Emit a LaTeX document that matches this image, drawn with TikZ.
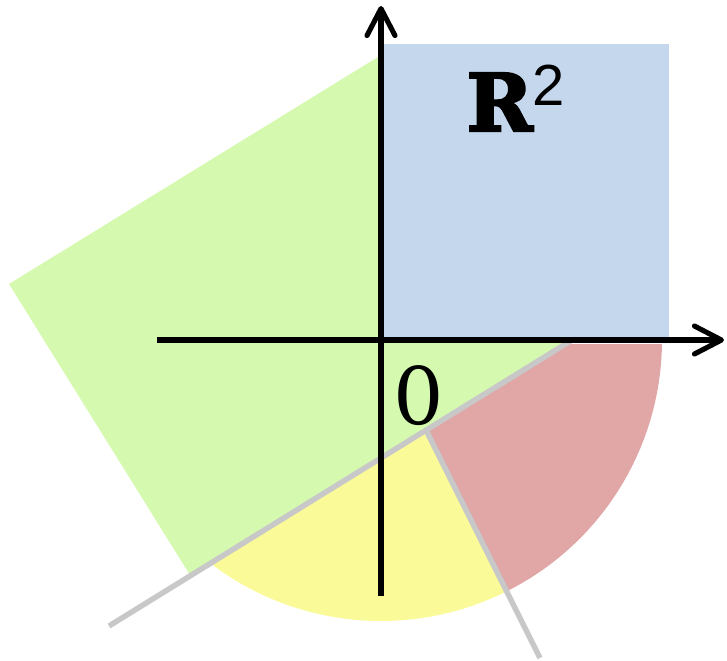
\documentclass[tikz,border=0pt]{standalone}
\usepackage{fontspec}
\usetikzlibrary{arrows.meta}
\newfontfamily\planefont{DejaVu Serif}
\newfontfamily\heavyfont[FakeBold=3]{DejaVu Serif Bold}
\newfontfamily\supfont{Liberation Sans}
\definecolor{quadblue}{RGB}{197,215,236}
\definecolor{rotgreen}{RGB}{213,250,175}
\definecolor{secyellow}{RGB}{250,250,152}
\definecolor{secred}{RGB}{225,166,166}
\definecolor{cutgray}{RGB}{200,200,200}
\begin{document}
\begin{tikzpicture}
 \tikzstyle{ax} = [line width=1.45pt, -{Straight Barb[length=2.7mm,width=2.8mm,round]}]
 \tikzstyle{cut} = [cutgray, line width=1.55pt]
 \tikzstyle{lab} = [inner sep=0pt, anchor=base west, font=\planefont\fontsize{22.6}{27}\selectfont]
 \useasboundingbox (-3.81,-3.20) rectangle (3.46,3.40);
    %%
        \coordinate (o) at (0,0);
        \coordinate (g1) at (-3.72,0.56);
        \coordinate (g2) at (-1.91,-2.35);
        \coordinate (g3) at (1.91,0);
        \coordinate (g4) at (0.10,2.91);
        \coordinate (p) at (0.451,-0.902);
        \coordinate (l1) at (-2.72,-2.86);
        \coordinate (l2) at (-63.43:3.555);
        \coordinate (xl) at (-2.24,0);
        \coordinate (xr) at (3.43,0);
        \coordinate (yb) at (0,-2.56);
        \coordinate (yt) at (0,3.34);
    %% regions
        \fill[secyellow] (o) -- (-127.1:2.81) arc[start angle=-127.1,end angle=-63.43,radius=2.81] -- cycle;
        \fill[secred] (0,-0.04) -- (-0.82:2.81) arc[start angle=-0.82,end angle=-63.43,radius=2.81] -- cycle;
        \fill[rotgreen] (g1) -- (g2) -- (g3) -- (g4) -- cycle;
        \fill[quadblue] (o) rectangle (2.88,2.96);
    %% cuts
        \draw[cut] (l1) -- (g3);
        \draw[cut] (p) -- (l2);
    %% axes
        \draw[ax] (xl) -- (xr);
        \draw[ax] (yb) -- (yt);
        \node[lab] (zero) at (0.12,-0.84) {0};
        \node[lab] (plane) at (0.85,2.09) {\heavyfont R\raisebox{0.26cm}{\supfont\fontsize{16.5}{19}\selectfont 2}};
\end{tikzpicture}
\end{document}
